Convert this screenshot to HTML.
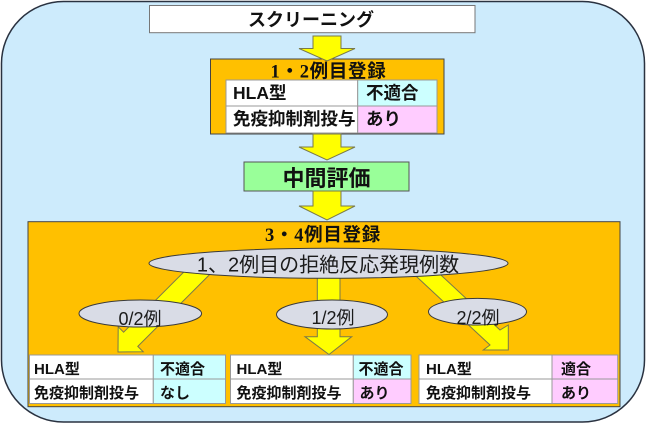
<!DOCTYPE html>
<html>
<head>
<meta charset="utf-8">
<style>
  html, body { margin:0; padding:0; background:#ffffff; }
  svg { display:block; }
  .jb { font-family: "Liberation Sans", "Noto Sans CJK JP", sans-serif; font-weight: bold; fill:#111; }
  .jn { font-family: "Liberation Sans", "Noto Sans CJK JP", sans-serif; font-weight: normal; fill:#1a1a1a; }
  .js { font-family: "Liberation Serif", "Noto Sans CJK JP", serif; font-weight: bold; fill:#111; letter-spacing:0.7px; }
</style>
</head>
<body>
<svg width="646" height="424" viewBox="0 0 646 424" xmlns="http://www.w3.org/2000/svg">
  <!-- outer rounded panel -->
  <rect x="1.5" y="1.5" width="643" height="420.5" rx="62" ry="62" fill="#cdebfc" stroke="#2a3240" stroke-width="1.5"/>

  <!-- screening box -->
  <rect x="149.5" y="5.5" width="325.5" height="27.2" fill="#ffffff" stroke="#777777" stroke-width="1"/>
  <text class="jb" x="311" y="26" font-size="18" text-anchor="middle">スクリーニング</text>

  <!-- box 1 -->
  <rect x="210.5" y="59" width="233.5" height="75" fill="#ffc000" stroke="#444444" stroke-width="1"/>
  <polygon points="313,36 341,36 341,48.5 355,48.5 327,61 299,48.5 313,48.5" fill="#ffff00" stroke="#7a7a4a" stroke-width="1"/>
  <text class="js" x="328.5" y="77.5" font-size="18.5" text-anchor="middle">1・2例目登録</text>
  <rect x="226" y="80" width="131.7" height="26" fill="#ffffff" stroke="#999999" stroke-width="1"/>
  <rect x="357.7" y="80" width="79.3" height="26" fill="#ccffff" stroke="#999999" stroke-width="1"/>
  <rect x="226" y="106" width="131.7" height="27" fill="#ffffff" stroke="#999999" stroke-width="1"/>
  <rect x="357.7" y="106" width="79.3" height="27" fill="#ffccff" stroke="#999999" stroke-width="1"/>
  <text class="jb" x="233" y="99" font-size="17.5">HLA型</text>
  <text class="jb" x="366" y="99" font-size="17.5">不適合</text>
  <text class="jb" x="233" y="125" font-size="17.5">免疫抑制剤投与</text>
  <text class="jb" x="366" y="125" font-size="17.5">あり</text>

  <!-- arrow 2 -->
  <polygon points="313,134 341,134 341,147 355,147 327,160 299,147 313,147" fill="#ffff00" stroke="#7a7a4a" stroke-width="1"/>

  <!-- green box -->
  <rect x="244" y="162" width="165" height="29" fill="#99ff99" stroke="#555555" stroke-width="1"/>
  <text class="jb" x="326.5" y="186" font-size="22" text-anchor="middle">中間評価</text>

  <!-- big orange box -->
  <rect x="28" y="221.7" width="592" height="185" fill="#ffc000" stroke="#444444" stroke-width="1"/>
  <!-- arrow 3 -->
  <polygon points="313,191 341,191 341,206 355,206 327,220 299,206 313,206" fill="#ffff00" stroke="#7a7a4a" stroke-width="1"/>
  <text class="js" x="323" y="241" font-size="18.5" text-anchor="middle">3・4例目登録</text>

  <!-- branch arrows -->
  <polygon points="199.9,255.9 123.6,332.2 118.2,326.8 118,352 143.2,351.8 137.8,346.4 214.1,270.1" fill="#ffff00" stroke="#7a7a4a" stroke-width="1"/>
  <polygon points="317.3,262 340,262 340,336.7 351.7,336.7 329,354.5 305,336.7 317.3,336.7" fill="#ffff00" stroke="#7a7a4a" stroke-width="1"/>
  <polygon points="407.3,268 490,345 483.3,350 508.3,350 508.3,325 500,330 429.1,264" fill="#ffff00" stroke="#7a7a4a" stroke-width="1"/>

  <!-- ellipses -->
  <ellipse cx="328.5" cy="263.3" rx="179.5" ry="15" fill="#d9dce6" stroke="#3a3a3a" stroke-width="1"/>
  <text class="jn" x="328" y="271.5" font-size="20" text-anchor="middle">1、2例目の拒絶反応発現例数</text>

  <ellipse cx="140.3" cy="313.5" rx="61.3" ry="13.5" fill="#d9dce6" stroke="#3a3a3a" stroke-width="1"/>
  <text class="jn" x="140" y="325" font-size="18" text-anchor="middle">0/2例</text>

  <ellipse cx="332" cy="314.5" rx="55.5" ry="14.5" fill="#d9dce6" stroke="#3a3a3a" stroke-width="1"/>
  <text class="jn" x="333" y="324" font-size="18" text-anchor="middle">1/2例</text>

  <ellipse cx="477.5" cy="311.7" rx="49" ry="13.3" fill="#d9dce6" stroke="#3a3a3a" stroke-width="1"/>
  <text class="jn" x="478" y="324" font-size="18" text-anchor="middle">2/2例</text>

  <!-- table 1 -->
  <rect x="29.5" y="355" width="123.8" height="24" fill="#ffffff" stroke="#999999" stroke-width="1"/>
  <rect x="153.3" y="355" width="72.2" height="24" fill="#ccffff" stroke="#999999" stroke-width="1"/>
  <rect x="29.5" y="379" width="123.8" height="24.5" fill="#ffffff" stroke="#999999" stroke-width="1"/>
  <rect x="153.3" y="379" width="72.2" height="24.5" fill="#ccffff" stroke="#999999" stroke-width="1"/>
  <text class="jb" x="34" y="374" font-size="15">HLA型</text>
  <text class="jb" x="160" y="374" font-size="15">不適合</text>
  <text class="jb" x="34" y="398" font-size="15">免疫抑制剤投与</text>
  <text class="jb" x="160" y="398" font-size="15">なし</text>

  <!-- table 2 -->
  <rect x="230.5" y="355" width="122.8" height="24" fill="#ffffff" stroke="#999999" stroke-width="1"/>
  <rect x="353.3" y="355" width="57.7" height="24" fill="#ccffff" stroke="#999999" stroke-width="1"/>
  <rect x="230.5" y="379" width="122.8" height="24.5" fill="#ffffff" stroke="#999999" stroke-width="1"/>
  <rect x="353.3" y="379" width="57.7" height="24.5" fill="#ffccff" stroke="#999999" stroke-width="1"/>
  <text class="jb" x="236.5" y="374" font-size="15">HLA型</text>
  <text class="jb" x="358.5" y="374" font-size="15">不適合</text>
  <text class="jb" x="236.5" y="398" font-size="15">免疫抑制剤投与</text>
  <text class="jb" x="359.5" y="398" font-size="15">あり</text>

  <!-- table 3 -->
  <rect x="419" y="355" width="133" height="24" fill="#ffffff" stroke="#999999" stroke-width="1"/>
  <rect x="552" y="355" width="65.7" height="24" fill="#ffccff" stroke="#999999" stroke-width="1"/>
  <rect x="419" y="379" width="133" height="24.5" fill="#ffffff" stroke="#999999" stroke-width="1"/>
  <rect x="552" y="379" width="65.7" height="24.5" fill="#ffccff" stroke="#999999" stroke-width="1"/>
  <text class="jb" x="426" y="374" font-size="15">HLA型</text>
  <text class="jb" x="561" y="374" font-size="15">適合</text>
  <text class="jb" x="426" y="398" font-size="15">免疫抑制剤投与</text>
  <text class="jb" x="561" y="398" font-size="15">あり</text>
</svg>
</body>
</html>
